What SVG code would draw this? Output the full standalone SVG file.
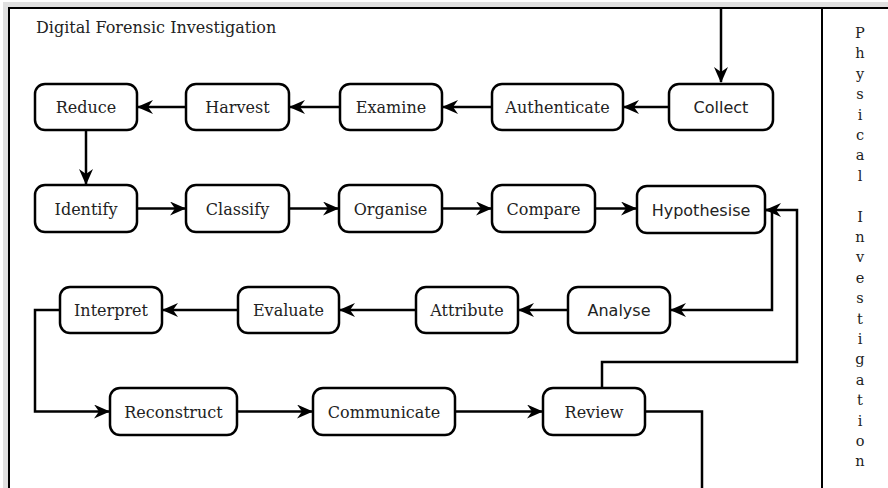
<svg xmlns="http://www.w3.org/2000/svg" width="888" height="488" viewBox="0 0 888 488">
<style>
.box{fill:#fff;stroke:#000;stroke-width:2.5}
.t{font-family:"DejaVu Serif",serif;font-size:16px;fill:#222;text-anchor:middle}
.s{font-family:"DejaVu Sans",sans-serif;font-size:16px;fill:#222;text-anchor:middle}
.c{fill:none;stroke:#000;stroke-width:2.5}
.a{marker-end:url(#ah)}
.v{font-family:"DejaVu Serif",serif;font-size:14.5px;fill:#222;text-anchor:middle}
</style>
<defs>
<marker id="ah" viewBox="0 0 16 14" refX="15" refY="7" markerWidth="16" markerHeight="14" markerUnits="userSpaceOnUse" orient="auto">
<path d="M0,0 L16,7 L0,14 L5,7 Z" fill="#000"/>
</marker>
</defs>
<rect x="0" y="0" width="888" height="488" fill="#fff"/>
<rect x="3" y="2" width="900" height="500" fill="#e0e0e0"/>
<rect x="9" y="8" width="900" height="500" fill="#fff" stroke="#000" stroke-width="2"/>
<line x1="822" y1="8" x2="822" y2="488" stroke="#000" stroke-width="2"/>
<text x="36" y="33" font-family="DejaVu Serif, serif" font-size="16" fill="#222">Digital Forensic Investigation</text>
<text class="v" x="860"><tspan x="860" y="38">P</tspan><tspan x="860" y="58.4">h</tspan><tspan x="860" y="78.8">y</tspan><tspan x="860" y="99.2">s</tspan><tspan x="860" y="119.6">i</tspan><tspan x="860" y="140">c</tspan><tspan x="860" y="160.4">a</tspan><tspan x="860" y="180.8">l</tspan><tspan x="860" y="221.6">I</tspan><tspan x="860" y="242">n</tspan><tspan x="860" y="262.4">v</tspan><tspan x="860" y="282.8">e</tspan><tspan x="860" y="303.2">s</tspan><tspan x="860" y="323.6">t</tspan><tspan x="860" y="344">i</tspan><tspan x="860" y="364.4">g</tspan><tspan x="860" y="384.8">a</tspan><tspan x="860" y="405.2">t</tspan><tspan x="860" y="425.6">i</tspan><tspan x="860" y="446">o</tspan><tspan x="860" y="466.4">n</tspan></text>
<g id="connectors">
<path class="c a" d="M721,8 V82"/>
<path class="c a" d="M669,107 H624"/>
<path class="c a" d="M492,107 H443"/>
<path class="c a" d="M340,107 H290"/>
<path class="c a" d="M186,107 H138"/>
<path class="c a" d="M86,130 V184"/>
<path class="c a" d="M137,208.5 H185"/>
<path class="c a" d="M289,208.5 H338"/>
<path class="c a" d="M442,208.5 H491"/>
<path class="c a" d="M595,208.5 H636"/>
<path class="c a" d="M765,210 H772 V310 H671"/>
<path class="c a" d="M568,310 H519"/>
<path class="c a" d="M416,310 H340"/>
<path class="c a" d="M238,310 H163"/>
<path class="c a" d="M60,310 H35 V411.5 H109"/>
<path class="c a" d="M237,411.5 H312"/>
<path class="c a" d="M455,411.5 H542"/>
<path class="c a" d="M602,388 V362 H797 V210 H766"/>
<path class="c" d="M645,411.5 H702 V488"/>
</g>
<g id="collect"><rect class="box" x="669" y="84" width="104" height="46" rx="10"/><text class="s" x="721" y="113">Collect</text></g>
<g id="authenticate"><rect class="box" x="492" y="84" width="131" height="46" rx="10"/><text class="t" x="557.5" y="113">Authenticate</text></g>
<g id="examine"><rect class="box" x="340" y="84" width="102" height="46" rx="10"/><text class="t" x="391" y="113">Examine</text></g>
<g id="harvest"><rect class="box" x="186" y="84" width="103" height="46" rx="10"/><text class="t" x="237.5" y="113">Harvest</text></g>
<g id="reduce"><rect class="box" x="35" y="84" width="102" height="46" rx="10"/><text class="t" x="86" y="113">Reduce</text></g>
<g id="identify"><rect class="box" x="35" y="185" width="102" height="47" rx="10"/><text class="t" x="86" y="214.5">Identify</text></g>
<g id="classify"><rect class="box" x="186" y="185" width="103" height="47" rx="10"/><text class="t" x="237.5" y="214.5">Classify</text></g>
<g id="organise"><rect class="box" x="339" y="185" width="103" height="47" rx="10"/><text class="t" x="390.5" y="214.5">Organise</text></g>
<g id="compare"><rect class="box" x="492" y="185" width="103" height="47" rx="10"/><text class="t" x="543.5" y="214.5">Compare</text></g>
<g id="hypothesise"><rect class="box" x="637" y="186" width="128" height="47" rx="10"/><text class="s" x="701" y="215.5">Hypothesise</text></g>
<g id="analyse"><rect class="box" x="568" y="287" width="102" height="46" rx="10"/><text class="s" x="619" y="316">Analyse</text></g>
<g id="attribute"><rect class="box" x="416" y="287" width="102" height="46" rx="10"/><text class="t" x="467" y="316">Attribute</text></g>
<g id="evaluate"><rect class="box" x="238" y="287" width="101" height="46" rx="10"/><text class="t" x="288.5" y="316">Evaluate</text></g>
<g id="interpret"><rect class="box" x="60" y="287" width="102" height="46" rx="10"/><text class="t" x="111" y="316">Interpret</text></g>
<g id="reconstruct"><rect class="box" x="110" y="388" width="127" height="47" rx="10"/><text class="t" x="173.5" y="417.5">Reconstruct</text></g>
<g id="communicate"><rect class="box" x="313" y="388" width="142" height="47" rx="10"/><text class="t" x="384" y="417.5">Communicate</text></g>
<g id="review"><rect class="box" x="543" y="388" width="102" height="47" rx="10"/><text class="t" x="594" y="417.5">Review</text></g>
</svg>
